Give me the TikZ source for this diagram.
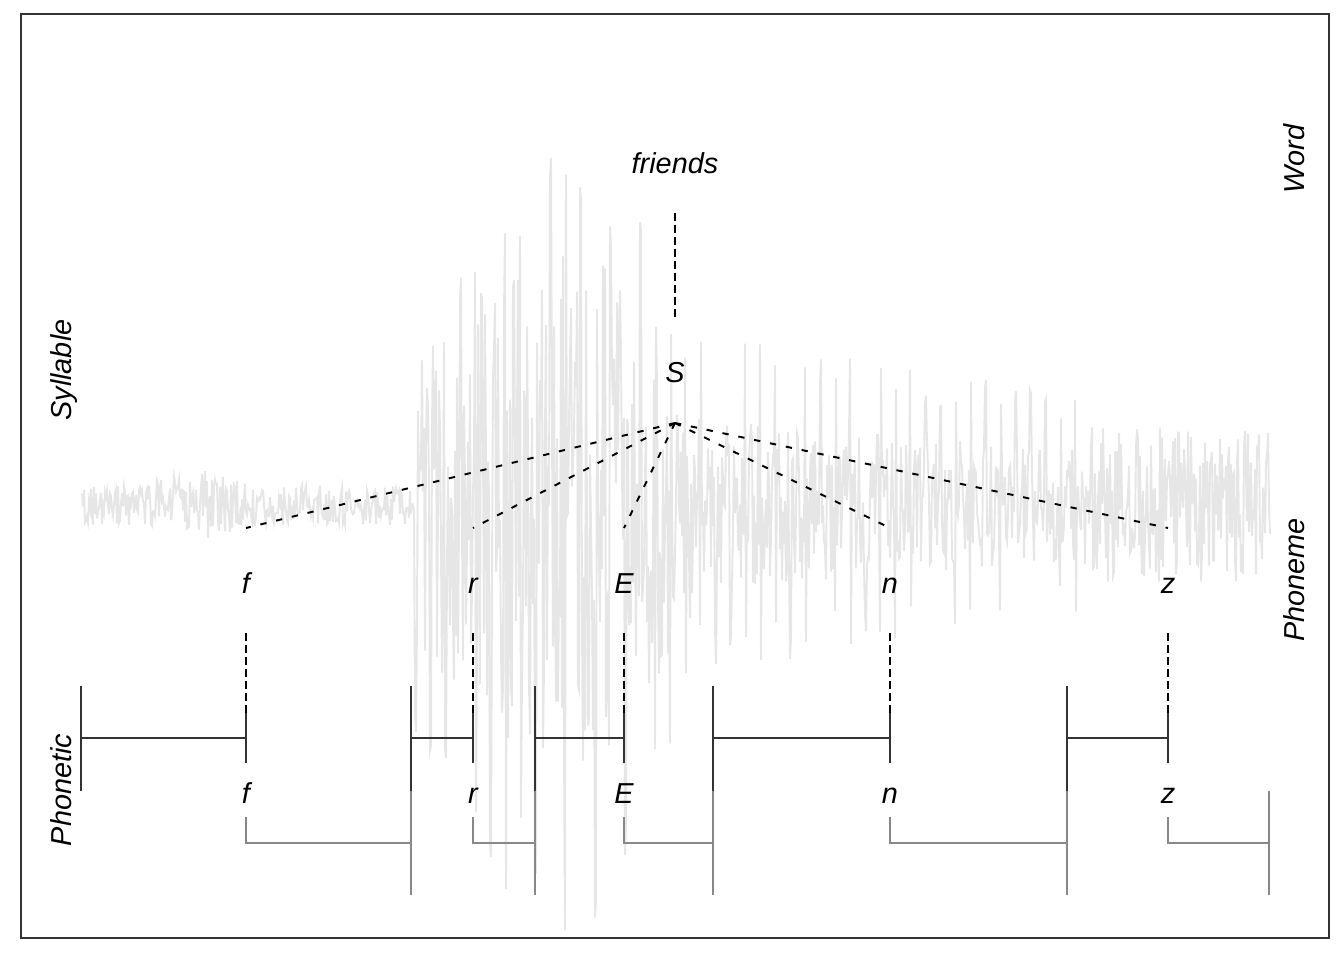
\documentclass[tikz,border=0pt]{standalone}
\usepackage{fontspec}
\setmainfont{Liberation Sans}
\definecolor{wave}{HTML}{E6E6E6}
\definecolor{tierdark}{HTML}{333333}
\definecolor{tierlight}{HTML}{888888}

\begin{document}
\begin{tikzpicture}[x=0.01cm, y=-0.01cm,
    lab/.style={font=\fontsize{8.2}{9.8}\selectfont\itshape, inner sep=0pt, anchor=base},
    vlab/.style={lab, rotate=90},
    tierdash/.style={black, line width=0.6pt, dash pattern=on 2.3pt off 1.1pt},
    fandash/.style={black, line width=0.55pt, dash pattern=on 1.8pt off 2.8pt},
    upper/.style={tierdark, line width=0.6pt},
    lower/.style={tierlight, line width=0.6pt}]
    \useasboundingbox (0,0) rectangle (1344,960);

    % Waveform in the background (f, vowel, n, z)
    \pgfmathsetseed{42}
    \draw[wave, line width=0.55pt]
        plot[domain=82:414, samples=333] (\x, {505 + (20+16*max(0,1-abs(\x-200)/60))*rand})
        -- plot[domain=415:574, samples=160] (\x, {505 + 430*exp(-((\x-575)/220)^2)*((mod(\x-415,15)<2)*(0.7+0.3*rnd)*(1.85*(rnd>0.45)-0.85) + (mod(\x-415,15)>=2)*0.6*rand)})
        -- plot[domain=575:699, samples=125] (\x, {505 + 430*exp(-((\x-575)/130)^2)*((mod(\x-415,15)<2)*(0.7+0.3*rnd)*(1.85*(rnd>0.45)-0.85) + (mod(\x-415,15)>=2)*0.6*rand)})
        -- plot[domain=700:1084, samples=385] (\x, {505 + (170-0.156*(\x-700))*((mod(\x-415,15)<2)*(0.7+0.3*rnd)*(2*(rnd>0.5)-1) + (mod(\x-415,15)>=2)*0.5*rand)})
        -- plot[domain=1085:1270, samples=186] (\x, {505 + 78*rand});

    % Frame
    \draw[tierdark, line width=0.75pt] (21,14) rectangle (1329,938);

    % Tier names
    \node[vlab] (word) at (1304,159) {Word};
    \node[vlab] (syll) at (71,370) {Syllable};
    \node[vlab] (phon) at (1304,580) {Phoneme};
    \node[vlab] (phnt) at (71,790) {Phonetic};

    % Word and syllable
    \node[lab] (word-friends) at (675,173) {friends};
    \node[lab] (syl-S) at (675,382) {S};
    \coordinate (w-top) at (675,213);
    \coordinate (s-top) at (675,318);
    \draw[tierdash] (w-top) -- (s-top);
    \coordinate (apex) at (675,423);

    % Phonemes and phonetic segments
    \foreach \p/\px/\bx/\nx in {f/246/81/411, r/473/411/535, E/624/535/713, n/890/713/1067, z/1168/1067/1269}{
      \coordinate (fan-\p) at (\px,528);
      \draw[fandash] (apex) -- (fan-\p);
      \node[lab] (pho-\p) at (\px,593) {\p};
      \coordinate (pd-\p) at (\px,633);
      \coordinate (pt-\p) at (\px,738);
      \draw[tierdash] (pd-\p) -- (pt-\p);
      \draw[upper] (\bx,686) -- (\bx,791);
      \draw[upper] (\bx,738) -- (pt-\p);
      \draw[upper] (\px,713) -- (\px,763);
      \node[lab] (pht-\p) at (\px,803) {\p};
      \draw[lower] (\px,817) -- (\px,843) -- (\nx,843);
      \draw[lower] (\nx,791) -- (\nx,895);
    }
\end{tikzpicture}
\end{document}
